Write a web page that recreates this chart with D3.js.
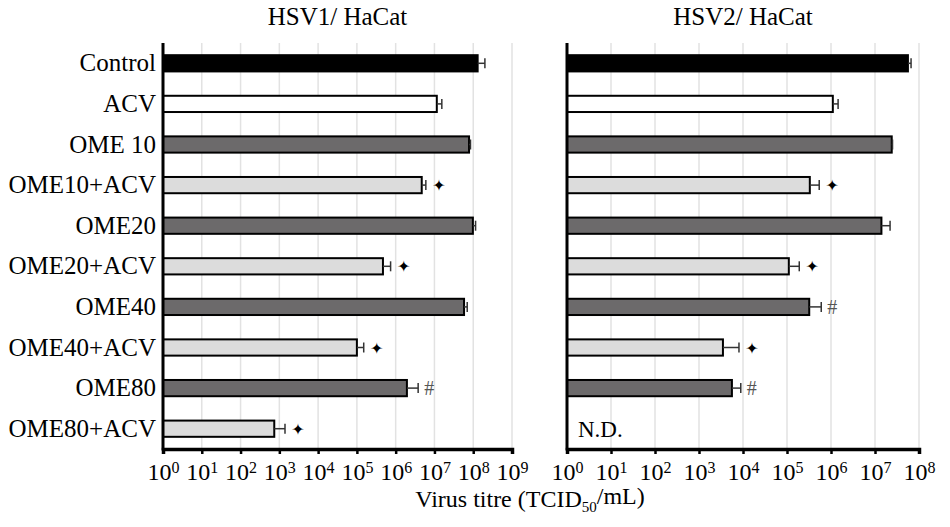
<!DOCTYPE html>
<html>
<head>
<meta charset="utf-8">
<script src="https://cdn.jsdelivr.net/npm/d3@7"></script>
<style>
  body { margin: 0; background: #fff; }
  text { font-family: "Liberation Serif", "DejaVu Serif", serif; }
</style>
</head>
<body>
<svg id="chart"></svg>
<script>
let width = 950;
let height = 527;

let categories = ['Control', 'ACV', 'OME 10', 'OME10+ACV', 'OME20', 'OME20+ACV', 'OME40', 'OME40+ACV', 'OME80', 'OME80+ACV'];
let groups = ['control', 'acv', 'ome', 'combo', 'ome', 'combo', 'ome', 'combo', 'ome', 'combo'];

// mean titre and top of error bar
let hsv1 = [1.3e8, 1.15e7, 7.8e7, 4.7e6, 9.8e7, 4.7e5, 5.8e7, 1.0e5, 1.95e6, 7.4e2];
let hsv1Err = [2.0e8, 1.55e7, 8.5e7, 6.0e6, 1.15e8, 7.4e5, 7.0e7, 1.5e5, 3.8e6, 1.4e3];
let hsv1Sig = ['', '', '', '*', '', '*', '', '*', '#', '*'];

let hsv2 = [5.6e7, 1.1e6, 2.4e7, 3.3e5, 1.4e7, 1.1e5, 3.2e5, 3.5e3, 5.6e3, null];
let hsv2Err = [6.6e7, 1.45e6, 2.5e7, 5.4e5, 2.2e7, 1.9e5, 6.0e5, 8.1e3, 8.9e3, null];
let hsv2Sig = ['', '', '', '*', '', '*', '#', '*', '#', ''];

let hsv1Ticks = [1, 1e1, 1e2, 1e3, 1e4, 1e5, 1e6, 1e7, 1e8, 1e9];
let hsv2Ticks = [1, 1e1, 1e2, 1e3, 1e4, 1e5, 1e6, 1e7, 1e8];

let fills = { control: '#000000', acv: '#ffffff', ome: '#6c6a6b', combo: '#dcdcdc' };

let serif = '"Liberation Serif", "DejaVu Serif", serif';
let plotTop = 43;
let plotBottom = 449;

let svg = d3.select('#chart').attr('width', width).attr('height', height);

let yScale = d3.scaleBand()
    .domain(categories)
    .range([plotTop, plotBottom])
    .paddingInner(0.6)
    .paddingOuter(0.3);

let drawPanel = (opts) => {
    let { values, errs, sigs, ticks, x0, x1, title } = opts;
    let xScale = d3.scaleLog()
        .domain([ticks[0], ticks[ticks.length - 1]])
        .range([x0, x1]);

    let g = svg.append('g');

    // grid lines
    g.selectAll('line.grid')
        .data(ticks.slice(1))
        .enter()
        .append('line')
        .attr('class', 'grid')
        .attr('x1', (d) => xScale(d))
        .attr('x2', (d) => xScale(d))
        .attr('y1', plotTop)
        .attr('y2', plotBottom)
        .attr('stroke', '#e2e2e2')
        .attr('stroke-width', 1.5);

    let rows = categories.map((c, i) => ({
        cat: c, v: values[i], e: errs[i], sig: sigs[i], group: groups[i]
    })).filter((d) => d.v != null);

    // bars
    g.selectAll('rect.bar')
        .data(rows)
        .enter()
        .append('rect')
        .attr('class', 'bar')
        .attr('x', x0)
        .attr('y', (d) => yScale(d.cat))
        .attr('width', (d) => xScale(d.v) - x0)
        .attr('height', yScale.bandwidth())
        .attr('fill', (d) => fills[d.group])
        .attr('stroke', '#000')
        .attr('stroke-width', 2);

    // error bars (upper only)
    let eb = g.selectAll('g.err')
        .data(rows)
        .enter()
        .append('g')
        .attr('class', 'err');
    eb.append('line')
        .attr('x1', (d) => xScale(d.v))
        .attr('x2', (d) => xScale(d.e))
        .attr('y1', (d) => yScale(d.cat) + yScale.bandwidth() / 2)
        .attr('y2', (d) => yScale(d.cat) + yScale.bandwidth() / 2)
        .attr('stroke', '#333')
        .attr('stroke-width', 1.5);
    eb.append('line')
        .attr('x1', (d) => xScale(d.e))
        .attr('x2', (d) => xScale(d.e))
        .attr('y1', (d) => yScale(d.cat) + yScale.bandwidth() / 2 - 5)
        .attr('y2', (d) => yScale(d.cat) + yScale.bandwidth() / 2 + 5)
        .attr('stroke', '#333')
        .attr('stroke-width', 1.5);

    // significance marks
    let marks = rows.filter((d) => d.sig !== '');
    g.selectAll('text.star')
        .data(marks.filter((d) => d.sig === '*'))
        .enter()
        .append('text')
        .attr('class', 'star')
        .attr('x', (d) => xScale(d.e) + 13)
        .attr('y', (d) => yScale(d.cat) + yScale.bandwidth() / 2 + 6)
        .attr('text-anchor', 'middle')
        .style('font-family', 'DejaVu Sans')
        .style('font-size', '16px')
        .text('\u2726');
    g.selectAll('text.hash')
        .data(marks.filter((d) => d.sig === '#'))
        .enter()
        .append('text')
        .attr('class', 'hash')
        .attr('x', (d) => xScale(d.e) + 11)
        .attr('y', (d) => yScale(d.cat) + yScale.bandwidth() / 2 + 7)
        .attr('text-anchor', 'middle')
        .attr('fill', '#555')
        .style('font-family', serif)
        .style('font-size', '20px')
        .text('#');

    // x axis
    let xAxis = d3.axisBottom(xScale)
        .tickValues(ticks)
        .tickSize(5)
        .tickFormat(() => '');
    let ax = g.append('g')
        .attr('transform', `translate(0, ${plotBottom})`)
        .call(xAxis);
    ax.attr('font-family', null).attr('font-size', null);
    ax.select('.domain').attr('stroke', '#000').attr('stroke-width', 3.5);
    ax.selectAll('.tick line').attr('stroke', '#000').attr('stroke-width', 2.5);
    ax.selectAll('.tick text').remove();
    let lab = ax.selectAll('.tick')
        .append('text')
        .attr('y', 31)
        .attr('fill', '#000')
        .attr('text-anchor', 'middle')
        .style('font-family', serif)
        .style('font-size', '24px');
    lab.append('tspan').text('10');
    lab.append('tspan')
        .attr('dy', '-0.45em')
        .style('font-size', '16px')
        .text((d) => Math.round(Math.log10(d)));

    // y axis
    let yAxis = d3.axisLeft(yScale).tickSize(0).tickFormat('');
    let ay = g.append('g')
        .attr('transform', `translate(${x0}, 0)`)
        .call(yAxis);
    ay.select('.domain')
        .attr('d', `M0,${plotTop}V${plotBottom + 1.5}`)
        .attr('stroke', '#000')
        .attr('stroke-width', 3);

    // title
    g.append('text')
        .attr('x', (x0 + x1) / 2)
        .attr('y', 25)
        .attr('text-anchor', 'middle')
        .style('font-family', serif)
        .style('font-size', '25px')
        .text(title);

    return xScale;
};

drawPanel({ values: hsv1, errs: hsv1Err, sigs: hsv1Sig, ticks: hsv1Ticks, x0: 163, x1: 512, title: 'HSV1/ HaCat' });
drawPanel({ values: hsv2, errs: hsv2Err, sigs: hsv2Sig, ticks: hsv2Ticks, x0: 567, x1: 919, title: 'HSV2/ HaCat' });

// category labels on the left panel
svg.append('g')
    .selectAll('text')
    .data(categories)
    .enter()
    .append('text')
    .attr('x', 156)
    .attr('y', (d) => yScale(d) + yScale.bandwidth() / 2 + 8)
    .attr('text-anchor', 'end')
    .style('font-family', serif)
    .style('font-size', '25px')
    .text((d) => d);

// not detected label
svg.append('text')
    .attr('x', 578)
    .attr('y', yScale('OME80+ACV') + yScale.bandwidth() / 2 + 8)
    .style('font-family', serif)
    .style('font-size', '23px')
    .text('N.D.');

// axis title
let xt = svg.append('text')
    .attr('x', 530)
    .attr('y', 507)
    .attr('text-anchor', 'middle')
    .style('font-family', serif)
    .style('font-size', '24px');
xt.append('tspan').text('Virus titre (TCID');
xt.append('tspan').attr('dy', '0.3em').style('font-size', '15px').text('50');
xt.append('tspan').attr('dy', '-0.3em').text('/mL)');
</script>
</body>
</html>
